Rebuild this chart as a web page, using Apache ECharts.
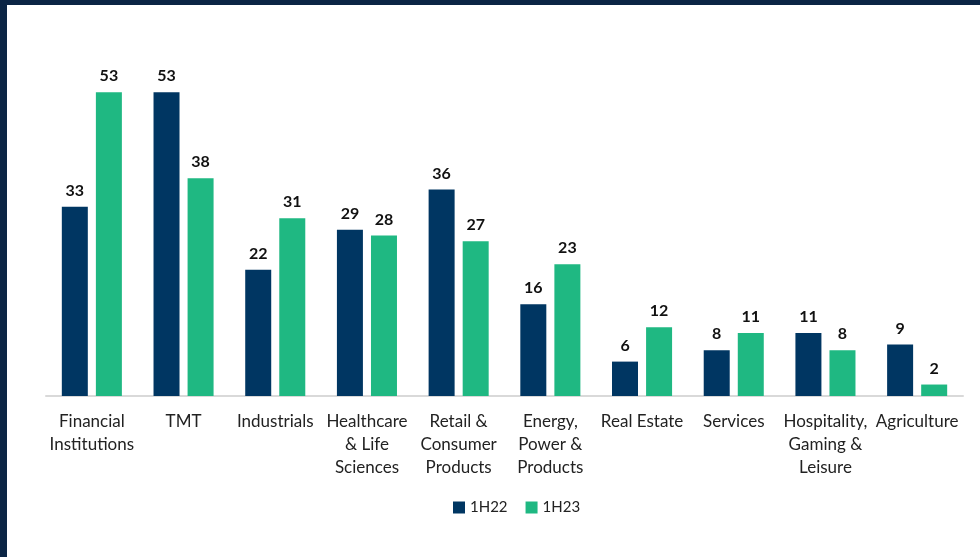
<!DOCTYPE html>
<html>
<head>
<meta charset="utf-8">
<script src="https://cdn.jsdelivr.net/npm/echarts@6/dist/echarts.min.js"></script>
<style>
html,body{margin:0;padding:0;background:#0b2545;width:980px;height:557px;overflow:hidden;}
#chart{position:absolute;left:7px;top:5px;width:973px;height:552px;background:#fff;}
</style>
</head>
<body>
<div id="chart"></div>
<script>
var sectors = ['Financial\nInstitutions', 'TMT', 'Industrials', 'Healthcare\n& Life\nSciences',
  'Retail &\nConsumer\nProducts', 'Energy,\nPower &\nProducts', 'Real Estate', 'Services',
  'Hospitality,\nGaming &\nLeisure', 'Agriculture'];
var seriesNames = ['1H22', '1H23'];
var deals1H22 = [33, 53, 22, 29, 36, 16, 6, 8, 11, 9];
var deals1H23 = [53, 38, 31, 28, 27, 23, 12, 11, 8, 2];

var chart = echarts.init(document.getElementById('chart'));
var font = 'Lato, "Open Sans", sans-serif';

function barSeries(name, data, colour) {
  return {
    name: name,
    type: 'bar',
    barWidth: 26,
    barGap: '31%',
    itemStyle: { color: colour },
    label: {
      show: true,
      position: 'top',
      distance: 8,
      color: '#111',
      fontWeight: 'bold',
      fontSize: 16,
      fontFamily: font
    },
    emphasis: { disabled: true },
    data: data
  };
}

var option = {
  animation: false,
  textStyle: { fontFamily: font },
  grid: { left: 39, right: 17, top: 47, bottom: 161 },
  legend: {
    bottom: 37,
    left: 441,
    itemWidth: 12,
    itemHeight: 12,
    itemGap: 18,
    icon: 'rect',
    textStyle: { fontSize: 15, color: '#222', fontFamily: font },
    data: seriesNames
  },
  xAxis: {
    type: 'category',
    data: sectors,
    axisTick: { show: false },
    axisLine: { lineStyle: { color: '#d9d9d9', width: 2 } },
    axisLabel: {
      interval: 0,
      margin: 14,
      fontSize: 17,
      lineHeight: 23,
      color: '#222',
      fontFamily: font
    }
  },
  yAxis: {
    type: 'value',
    min: 0,
    max: 60,
    show: false,
    splitLine: { show: false }
  },
  series: [
    barSeries(seriesNames[0], deals1H22, '#003662'),
    barSeries(seriesNames[1], deals1H23, '#1fb882')
  ]
};
chart.setOption(option);
</script>
</body>
</html>
